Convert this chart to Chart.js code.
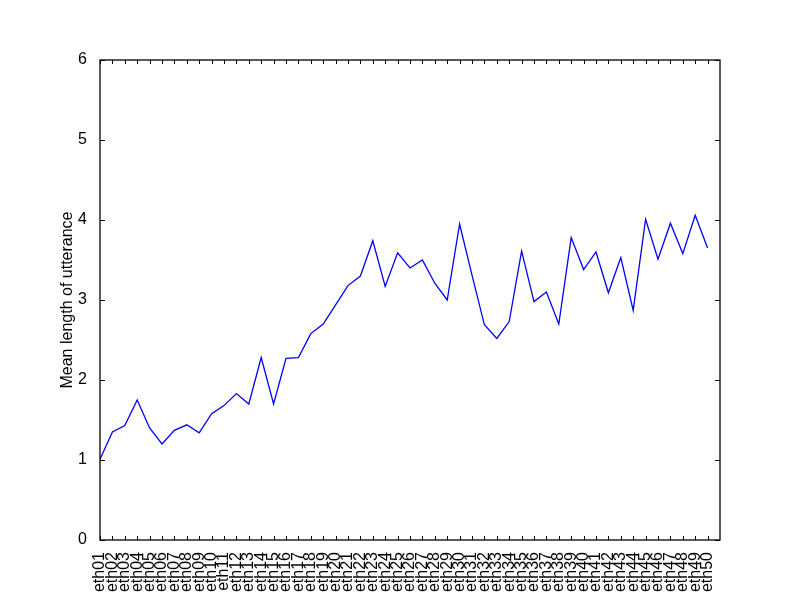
<!DOCTYPE html>
<html>
<head>
<meta charset="utf-8">
<script src="https://cdn.jsdelivr.net/npm/chart.js@4"></script>
<style>
  html, body { margin: 0; padding: 0; background: #fff; }
  #wrap { width: 800px; height: 600px; }
</style>
</head>
<body>
<div id="wrap"><canvas id="mluChart" width="800" height="600"></canvas></div>
<script>
// speakers on the x axis
const speakers = [
  "eth01", "eth02", "eth03", "eth04", "eth05", "eth06", "eth07", "eth08", "eth09", "eth10",
  "eth11", "eth12", "eth13", "eth14", "eth15", "eth16", "eth17", "eth18", "eth19", "eth20",
  "eth21", "eth22", "eth23", "eth24", "eth25", "eth26", "eth27", "eth28", "eth29", "eth30",
  "eth31", "eth32", "eth33", "eth34", "eth35", "eth36", "eth37", "eth38", "eth39", "eth40",
  "eth41", "eth42", "eth43", "eth44", "eth45", "eth46", "eth47", "eth48", "eth49", "eth50"
];

// mean length of utterance per speaker
const mluValues = [
  1.01, 1.35, 1.43, 1.75, 1.40, 1.20, 1.37, 1.44, 1.34, 1.58,
  1.68, 1.83, 1.70, 2.28, 1.70, 2.27, 2.28, 2.58, 2.70, 2.94,
  3.18, 3.30, 3.74, 3.17, 3.59, 3.40, 3.50, 3.21, 3.00, 3.95,
  3.31, 2.69, 2.52, 2.73, 3.61, 2.98, 3.10, 2.70, 3.78, 3.38,
  3.60, 3.09, 3.53, 2.87, 4.01, 3.51, 3.96, 3.58, 4.06, 3.65
];

const yTicks = [0, 1, 2, 3, 4, 5, 6];

const FONT = "'Liberation Sans', Arial, Helvetica, sans-serif";

// frame round the plot + inward ticks, like the classic look
const frameTicks = {
  id: "frameTicks",
  afterDraw(chart) {
    const { ctx, chartArea: a, scales } = chart;
    ctx.save();
    ctx.strokeStyle = "#000";
    ctx.lineWidth = 1;
    ctx.beginPath();
    yTicks.forEach(v => {
      const y = Math.round(scales.y.getPixelForValue(v)) + 0.5;
      ctx.moveTo(a.left, y); ctx.lineTo(a.left + 5, y);
      ctx.moveTo(a.right, y); ctx.lineTo(a.right - 5, y);
    });
    speakers.forEach((s, i) => {
      const x = Math.round(scales.x.getPixelForValue(i)) + 0.5;
      ctx.moveTo(x, a.bottom); ctx.lineTo(x, a.bottom - 4);
      ctx.moveTo(x, a.top); ctx.lineTo(x, a.top + 4);
    });
    ctx.stroke();
    ctx.lineWidth = 1.3;
    ctx.strokeRect(a.left, a.top, a.right - a.left, a.bottom - a.top);
    ctx.restore();
  }
};

const ctx = document.getElementById("mluChart").getContext("2d");
new Chart(ctx, {
  type: "line",
  data: {
    datasets: [{
      label: "MLU",
      data: mluValues.map((v, i) => ({ x: i, y: v })),
      borderColor: "#0000ff",
      borderWidth: 1.3,
      pointRadius: 0,
      tension: 0,
      fill: false
    }]
  },
  options: {
    responsive: false,
    animation: false,
    layout: { padding: { top: 60, right: 80, bottom: 0, left: 0 } },
    plugins: {
      legend: { display: false },
      tooltip: { enabled: false }
    },
    scales: {
      x: {
        type: "linear",
        min: 0,
        max: 50,
        grid: { display: false },
        border: { display: false },
        afterFit(scale) { scale.height = 60; },
        afterBuildTicks(scale) {
          scale.ticks = speakers.map((s, i) => ({ value: i }));
        },
        ticks: {
          autoSkip: false,
          maxRotation: 90,
          minRotation: 90,
          padding: 4,
          color: "#000",
          font: { family: FONT, size: 16 },
          callback: v => speakers[v] || ""
        }
      },
      y: {
        min: 0,
        max: 6,
        grid: { display: false },
        border: { display: false },
        afterFit(scale) { scale.width = 100; },
        afterBuildTicks(scale) {
          scale.ticks = yTicks.map(v => ({ value: v }));
        },
        ticks: {
          padding: 5,
          color: "#000",
          font: { family: FONT, size: 16 }
        },
        title: {
          display: true,
          text: "Mean length of utterance",
          color: "#000",
          font: { family: FONT, size: 16 },
          padding: { top: 58, bottom: 0 }
        }
      }
    }
  },
  plugins: [frameTicks]
});
</script>
</body>
</html>
